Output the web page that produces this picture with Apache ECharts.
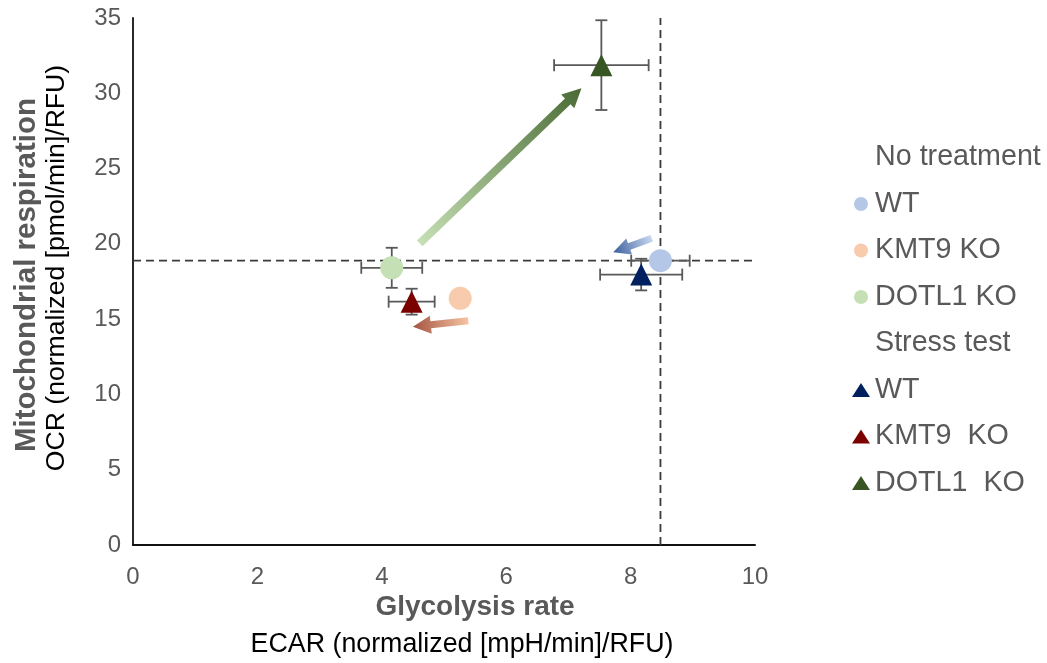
<!DOCTYPE html>
<html>
<head>
<meta charset="utf-8">
<script src="https://cdn.jsdelivr.net/npm/echarts@6/dist/echarts.min.js"></script>
<style>
  html, body { margin: 0; padding: 0; background: #fff; }
  #chart { width: 1047px; height: 663px; }
</style>
</head>
<body>
<div id="chart"></div>
<script>
// ---- data ----
const groupHeaders = ['No treatment', 'Stress test'];
const strainLabels = ['WT', 'KMT9 KO', 'DOTL1 KO'];
const stressLabels = ['WT', 'KMT9  KO', 'DOTL1  KO'];

// untreated cells: ECAR (x), OCR (y) and their errors
const baseX = [8.48, 5.26, 4.16];
const baseY = [18.88, 16.38, 18.41];
const baseXErr = [0.47, 0, 0.49];
const baseYErr = [0, 0, 1.33];

// stress test
const stressX = [8.17, 4.48, 7.53];
const stressY = [17.96, 16.16, 31.87];
const stressXErr = [0.66, 0.37, 0.76];
const stressYErr = [1.05, 0.86, 2.98];

// WT reference (dashed cross)
const refX = 8.48;
const refY = 18.88;

// shift arrows (from -> to), per strain
const arrowFrom = [[8.34, 20.37], [5.39, 14.89], [4.61, 20.03]];
const arrowTo = [[7.72, 19.44], [4.50, 14.50], [7.21, 30.33]];

const xTicks = [0, 2, 4, 6, 8, 10];
const yTicks = [0, 5, 10, 15, 20, 25, 30, 35];

// ---- styles ----
const baseColors = ['#b4c7e7', '#f8cbad', '#c5e0b4'];
const stressColors = ['#002060', '#7b0000', '#375623'];
const arrowTail = ['#c9d7ef', '#f6c4a2', '#c5e0b4'];
const arrowHead = ['#3b5f9e', '#a45443', '#4a6b35'];
const arrowShaft = [7, 7, 8];
const arrowHeadSize = [17, 18, 19];
const FONT = "'Liberation Sans', Arial, sans-serif";
const GREY = '#595959';

const chart = echarts.init(document.getElementById('chart'));

const seriesKey = (g, i) => g + '|' + i;
const legendText = {};
groupHeaders.forEach(h => { legendText[h] = h; });
strainLabels.forEach((l, i) => { legendText[seriesKey('base', i)] = l; });
stressLabels.forEach((l, i) => { legendText[seriesKey('stress', i)] = l; });

const series = [];

// dashed reference cross through WT
series.push({
  type: 'line', silent: true, z: 1, symbol: 'none',
  data: [[xTicks[0], refY], [xTicks[xTicks.length - 1], refY]],
  lineStyle: { color: '#3a3a3a', width: 1.8, type: [8, 5] }
});
series.push({
  type: 'line', silent: true, z: 1, symbol: 'none',
  data: [[refX, yTicks[0]], [refX, yTicks[yTicks.length - 1]]],
  lineStyle: { color: '#3a3a3a', width: 1.8, type: [8, 5] }
});

// error bars
const errData = [];
for (let i = 0; i < 3; i++) {
  errData.push([baseX[i], baseY[i], baseXErr[i], baseYErr[i]]);
  errData.push([stressX[i], stressY[i], stressXErr[i], stressYErr[i]]);
}
series.push({
  type: 'custom', silent: true, z: 2,
  data: errData,
  renderItem: function (params, api) {
    const x = api.value(0), y = api.value(1), ex = api.value(2), ey = api.value(3);
    const cap = 6;
    const children = [];
    const st = { stroke: GREY, lineWidth: 1.8, fill: null };
    if (ex > 0) {
      const a = api.coord([x - ex, y]), b = api.coord([x + ex, y]);
      children.push({ type: 'line', shape: { x1: a[0], y1: a[1], x2: b[0], y2: b[1] }, style: st });
      children.push({ type: 'line', shape: { x1: a[0], y1: a[1] - cap, x2: a[0], y2: a[1] + cap }, style: st });
      children.push({ type: 'line', shape: { x1: b[0], y1: b[1] - cap, x2: b[0], y2: b[1] + cap }, style: st });
    }
    if (ey > 0) {
      const a = api.coord([x, y - ey]), b = api.coord([x, y + ey]);
      children.push({ type: 'line', shape: { x1: a[0], y1: a[1], x2: b[0], y2: b[1] }, style: st });
      children.push({ type: 'line', shape: { x1: a[0] - cap, y1: a[1], x2: a[0] + cap, y2: a[1] }, style: st });
      children.push({ type: 'line', shape: { x1: b[0] - cap, y1: b[1], x2: b[0] + cap, y2: b[1] }, style: st });
    }
    return { type: 'group', children: children };
  }
});

// legend headers (no marker)
groupHeaders.forEach(h => {
  series.push({ type: 'scatter', name: h, data: [] });
});

// untreated points (circles)
strainLabels.forEach((l, i) => {
  series.push({
    type: 'scatter', name: seriesKey('base', i), z: 3,
    symbol: 'circle', symbolSize: 23,
    itemStyle: { color: baseColors[i], opacity: 1 },
    data: [[baseX[i], baseY[i]]]
  });
});
// stress test points (triangles)
stressLabels.forEach((l, i) => {
  series.push({
    type: 'scatter', name: seriesKey('stress', i), z: 3,
    symbol: 'triangle', symbolSize: [22, 22],
    itemStyle: { color: stressColors[i], opacity: 1 },
    data: [[stressX[i], stressY[i]]]
  });
});

// shift arrows with gradient fill
series.push({
  type: 'custom', silent: true, z: 4,
  data: arrowFrom.map((f, i) => [f[0], f[1], arrowTo[i][0], arrowTo[i][1], i]),
  renderItem: function (params, api) {
    const i = api.value(4);
    const p0 = api.coord([api.value(0), api.value(1)]);
    const p1 = api.coord([api.value(2), api.value(3)]);
    const dx = p1[0] - p0[0], dy = p1[1] - p0[1];
    const len = Math.hypot(dx, dy);
    const ux = dx / len, uy = dy / len, nx = -uy, ny = ux;
    const hw = arrowShaft[i] / 2, hl = arrowHeadSize[i], hh = arrowHeadSize[i] / 2;
    const bx = p1[0] - ux * hl, by = p1[1] - uy * hl;
    const pts = [
      [p0[0] + nx * hw, p0[1] + ny * hw],
      [bx + nx * hw, by + ny * hw],
      [bx + nx * hh, by + ny * hh],
      [p1[0], p1[1]],
      [bx - nx * hh, by - ny * hh],
      [bx - nx * hw, by - ny * hw],
      [p0[0] - nx * hw, p0[1] - ny * hw]
    ];
    return {
      type: 'polygon',
      shape: { points: pts },
      style: {
        fill: new echarts.graphic.LinearGradient(p0[0], p0[1], p1[0], p1[1], [
          { offset: 0, color: arrowTail[i] },
          { offset: 1, color: arrowHead[i] }
        ], true)
      }
    };
  }
});

const legendData = [
  { name: groupHeaders[0], icon: 'none' },
  ...strainLabels.map((l, i) => ({ name: seriesKey('base', i), icon: 'circle' })),
  { name: groupHeaders[1], icon: 'none' },
  ...stressLabels.map((l, i) => ({ name: seriesKey('stress', i), icon: 'triangle' }))
];

chart.setOption({
  animation: false,
  textStyle: { fontFamily: FONT },
  grid: { left: 133, right: 292, top: 18, bottom: 118, containLabel: false },
  legend: {
    orient: 'vertical', left: 847, top: 138,
    itemWidth: 18, itemHeight: 14, itemGap: 17.5,
    selectedMode: false,
    data: legendData,
    formatter: name => legendText[name] || name,
    textStyle: { fontFamily: FONT, fontSize: 28.7, lineHeight: 28, color: GREY }
  },
  xAxis: {
    type: 'value', min: xTicks[0], max: xTicks[xTicks.length - 1], interval: 2,
    axisLine: { show: true, onZero: false, lineStyle: { color: '#111', width: 2 } },
    axisTick: { show: false },
    splitLine: { show: false },
    axisLabel: { fontFamily: FONT, fontSize: 24, color: GREY, margin: 20 }
  },
  yAxis: {
    type: 'value', min: yTicks[0], max: yTicks[yTicks.length - 1], interval: 5,
    axisLine: { show: true, onZero: false, lineStyle: { color: '#111', width: 1.8 } },
    axisTick: { show: false },
    splitLine: { show: false },
    axisLabel: { fontFamily: FONT, fontSize: 24, color: GREY, margin: 12 }
  },
  graphic: [
    { type: 'text', x: 475, y: 607, silent: true,
      style: { text: 'Glycolysis rate', font: 'bold 28px ' + FONT, fill: GREY, align: 'center', verticalAlign: 'middle' } },
    { type: 'text', x: 462, y: 645, silent: true,
      style: { text: 'ECAR (normalized [mpH/min]/RFU)', font: '26.8px ' + FONT, fill: '#000', align: 'center', verticalAlign: 'middle' } },
    { type: 'text', x: 27, y: 275, rotation: Math.PI / 2, silent: true,
      style: { text: 'Mitochondrial respiration', font: 'bold 29.5px ' + FONT, fill: GREY, align: 'center', verticalAlign: 'middle' } },
    { type: 'text', x: 57, y: 268, rotation: Math.PI / 2, silent: true,
      style: { text: 'OCR (normalized [pmol/min]/RFU)', font: '26.6px ' + FONT, fill: '#000', align: 'center', verticalAlign: 'middle' } }
  ],
  series: series
});
</script>
</body>
</html>
